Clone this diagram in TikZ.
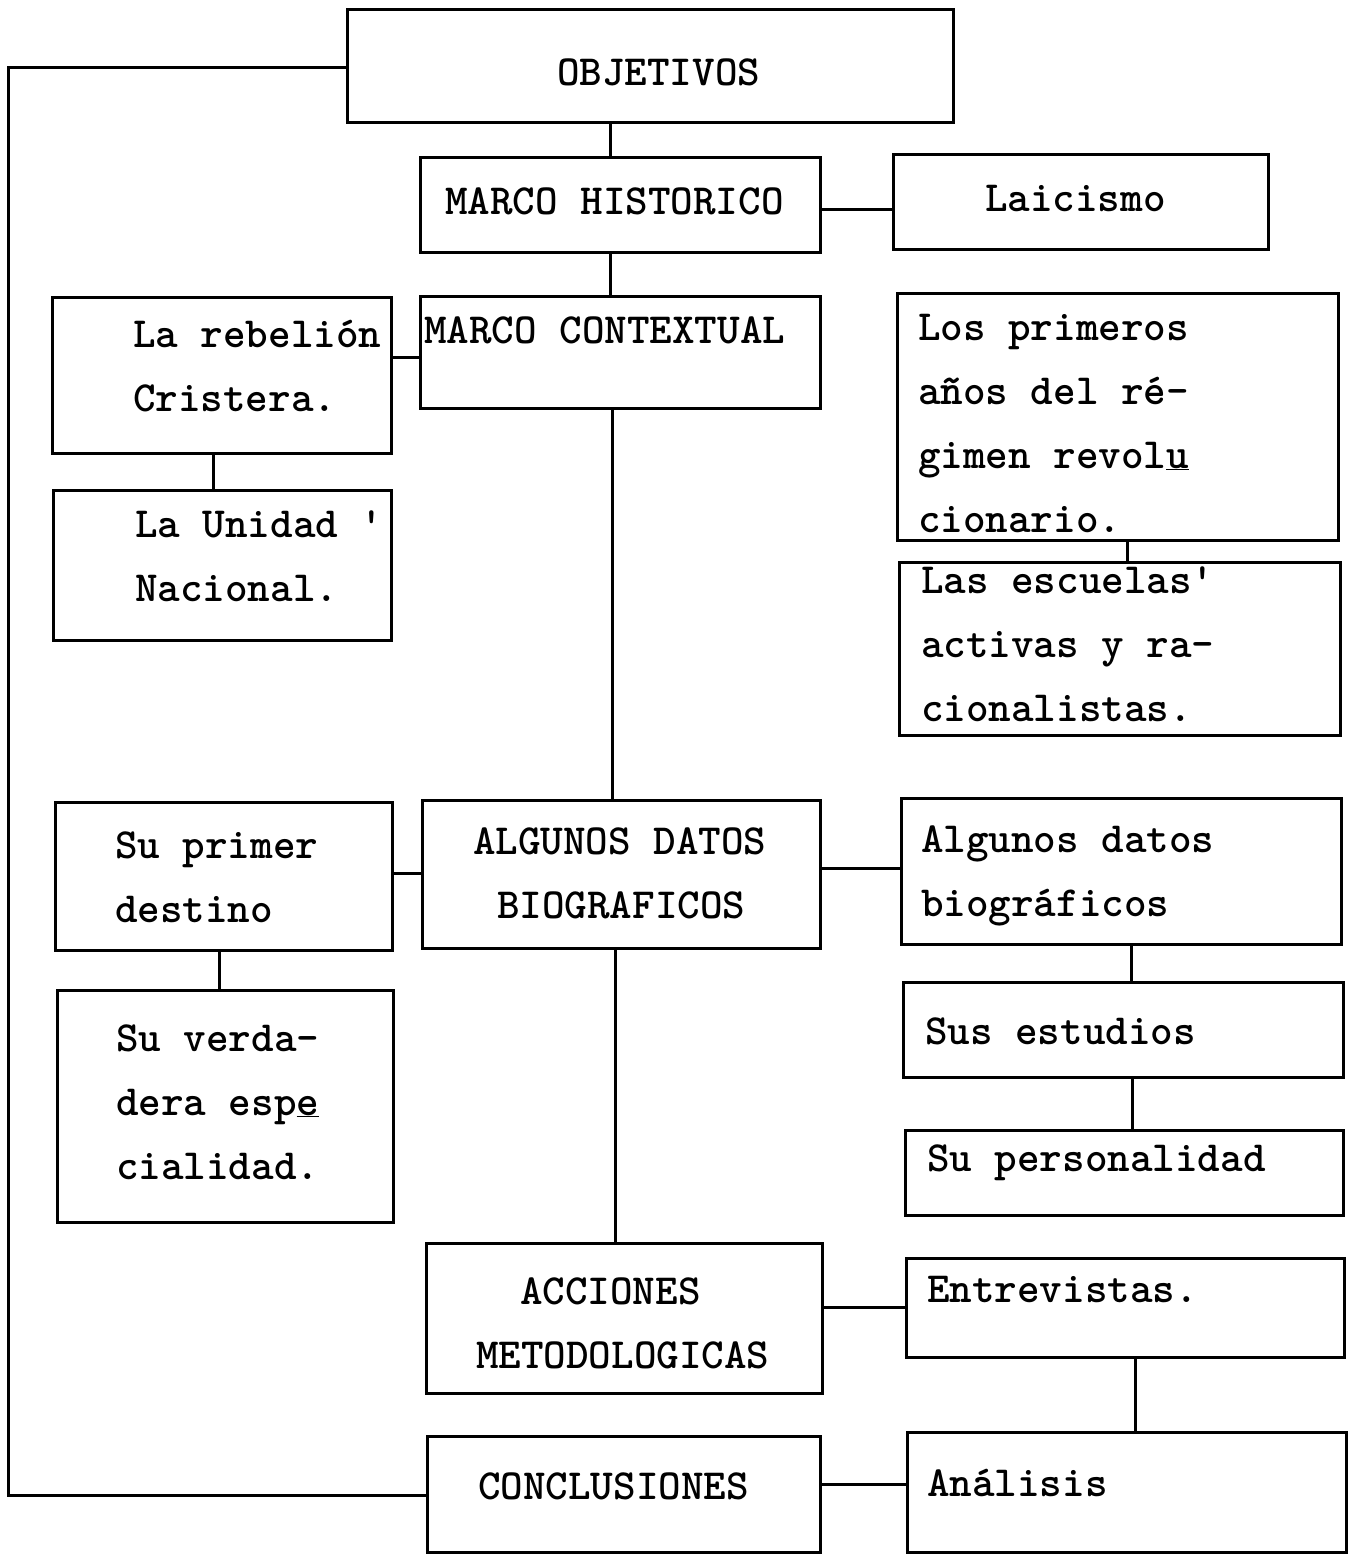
\documentclass[tikz,border=0pt]{standalone}
\usepackage{fontspec}
\newcommand\tw{\ttfamily\bfseries\fontsize{43}{64}\selectfont}
\newcommand\LinesTwo[2]{\vtop{\hbox{#1}\hbox{#2}}}
\newcommand\LinesThree[3]{\vtop{\hbox{#1}\hbox{#2}\hbox{#3}}}
\newcommand\LinesFour[4]{\vtop{\hbox{#1}\hbox{#2}\hbox{#3}\hbox{#4}}}
\begin{document}
\begin{tikzpicture}[x=1pt,y=-1pt,
  box/.style={draw, line width=3pt, rectangle, inner sep=0pt, outer sep=0pt},
  link/.style={line width=3pt},
  txt/.style={anchor=base west, inner sep=0pt, outer sep=0pt, font=\tw}]
\useasboundingbox[fill=white] (0,0) rectangle (1353,1554);
% boxes
\node[box, minimum width=606pt, minimum height=113pt] (obj) at (650,66.5) {};
\node[box, minimum width=400pt, minimum height=95pt] (mh) at (620,205.5) {};
\node[box, minimum width=375pt, minimum height=95pt] (lai) at (1080.5,202.5) {};
\node[box, minimum width=339pt, minimum height=156pt] (reb) at (221.5,375) {};
\node[box, minimum width=400pt, minimum height=112pt] (mc) at (620,352) {};
\node[box, minimum width=441pt, minimum height=247pt] (prim) at (1117.5,416.5) {};
\node[box, minimum width=338pt, minimum height=150pt] (uni) at (222,565) {};
\node[box, minimum width=441pt, minimum height=173pt] (esc) at (1119.5,648.5) {};
\node[box, minimum width=337pt, minimum height=148pt] (dest) at (223.5,876) {};
\node[box, minimum width=398pt, minimum height=148pt] (adb) at (621,874) {};
\node[box, minimum width=440pt, minimum height=146pt] (adb2) at (1121,871) {};
\node[box, minimum width=336pt, minimum height=232pt] (esp) at (225,1106) {};
\node[box, minimum width=440pt, minimum height=95pt] (est) at (1123,1029.5) {};
\node[box, minimum width=438pt, minimum height=85pt] (per) at (1124,1172.5) {};
\node[box, minimum width=396pt, minimum height=150pt] (acc) at (624,1318) {};
\node[box, minimum width=438pt, minimum height=99pt] (ent) at (1125,1307.5) {};
\node[box, minimum width=393pt, minimum height=116pt] (con) at (623.5,1494) {};
\node[box, minimum width=439pt, minimum height=120pt] (ana) at (1126.5,1492) {};
% texts
\node[txt] (tobj) at (557,86) {OBJETIVOS};
\node[txt] (tmh) at (445,215) {MARCO HISTORICO};
\node[txt] (tlai) at (985,212) {Laicismo};
\node[txt] (treb) at (133,347) {\LinesTwo{La rebelión}{Cristera.}};
\node[txt] (tmc) at (424,343) {MARCO CONTEXTUAL};
\node[txt] (tprim) at (918,340) {\LinesFour{Los primeros}{años del ré-}{gimen revol\underline{u}}{cionario.}};
\node[txt] (tuni) at (135,537) {\LinesTwo{La Unidad '}{Nacional.}};
\node[txt] (tesc) at (921,593) {\LinesThree{Las escuelas'}{activas y ra-}{cionalistas.}};
\node[txt] (tdest) at (115,858) {\LinesTwo{Su primer}{destino}};
\node[txt] (tadb) at (473,854) {ALGUNOS DATOS};
\node[txt] (tadbb) at (497,918) {BIOGRAFICOS};
\node[txt] (tadb2) at (921,852) {\LinesTwo{Algunos datos}{biográficos}};
\node[txt] (tesp) at (116,1051) {\LinesThree{Su verda-}{dera esp\underline{e}}{cialidad.}};
\node[txt] (test) at (925,1044) {Sus estudios};
\node[txt] (tper) at (927,1171) {Su personalidad};
\node[txt] (tacc) at (520,1304) {ACCIONES};
\node[txt] (taccb) at (476,1368) {METODOLOGICAS};
\node[txt] (tent) at (927,1302) {Entrevistas.};
\node[txt] (tcon) at (478,1499) {CONCLUSIONES};
\node[txt] (tana) at (927,1496) {Análisis};
% helper columns / rows
\coordinate (x610) at (610,0);
\coordinate (x612) at (612,0);
\coordinate (x615) at (615,0);
\coordinate (x213) at (213,0);
\coordinate (x219) at (219,0);
\coordinate (x1127) at (1127,0);
\coordinate (x1131) at (1131,0);
\coordinate (x1132) at (1132,0);
\coordinate (x1135) at (1135,0);
\coordinate (y210) at (0,210);
\coordinate (y357) at (0,357);
\coordinate (y873) at (0,873);
\coordinate (y868) at (0,868);
\coordinate (y1307) at (0,1307);
\coordinate (y1484) at (0,1484);
\coordinate (y1495) at (0,1495);
\coordinate (y68) at (0,68);
\coordinate (lx) at (8,0);
% connectors
\draw[link] (obj.south -| x610) -- (mh.north -| x610);
\draw[link] (mh.east |- y210) -- (lai.west |- y210);
\draw[link] (mh.south -| x610) -- (mc.north -| x610);
\draw[link] (reb.east |- y357) -- (mc.west |- y357);
\draw[link] (reb.south -| x213) -- (uni.north -| x213);
\draw[link] (mc.south -| x612) -- (adb.north -| x612);
\draw[link] (prim.south -| x1127) -- (esc.north -| x1127);
\draw[link] (dest.east |- y873) -- (adb.west |- y873);
\draw[link] (adb.east |- y868) -- (adb2.west |- y868);
\draw[link] (dest.south -| x219) -- (esp.north -| x219);
\draw[link] (adb2.south -| x1131) -- (est.north -| x1131);
\draw[link] (est.south -| x1132) -- (per.north -| x1132);
\draw[link] (adb.south -| x615) -- (acc.north -| x615);
\draw[link] (acc.east |- y1307) -- (ent.west |- y1307);
\draw[link] (ent.south -| x1135) -- (ana.north -| x1135);
\draw[link] (con.east |- y1484) -- (ana.west |- y1484);
\draw[link] (con.west |- y1495) -- (lx |- y1495) -- (lx |- y68) -- (obj.west |- y68);
\end{tikzpicture}
\end{document}
